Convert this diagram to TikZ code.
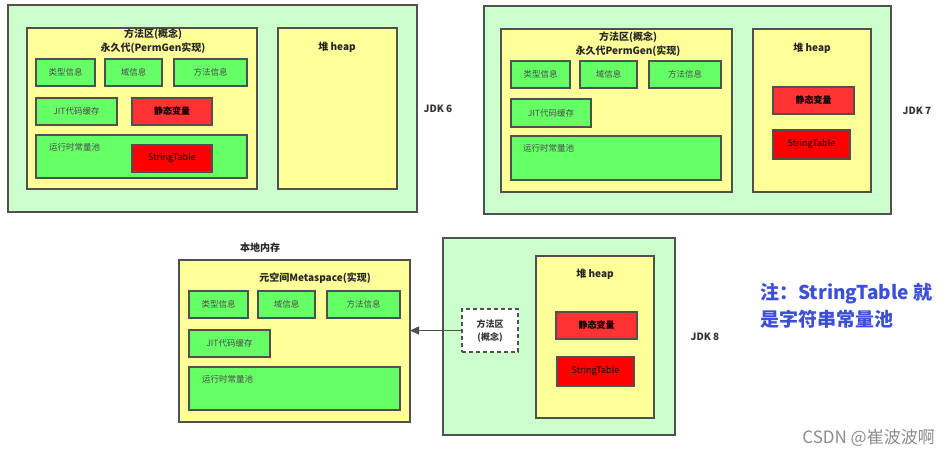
\documentclass[tikz,border=0pt]{standalone}
\usepackage{fontspec}
\setmainfont{Noto Sans CJK SC}
\usetikzlibrary{arrows.meta}
\definecolor{outg}{HTML}{CCFFCC}
\definecolor{yel}{HTML}{FFFF99}
\definecolor{gb}{HTML}{66FF66}
\definecolor{rb}{HTML}{FF3333}
\definecolor{rb2}{HTML}{FF0000}
\definecolor{bd}{HTML}{505050}
\definecolor{note}{HTML}{3D4FD6}
\definecolor{txtg}{HTML}{4A4A4A}
\newcommand\bx[7]{\node[#2, anchor=north west, minimum width={#5-#3}, minimum height={#6-#4}] (#1) at (#3,#4) {#7};}
\tikzset{
  base/.style={inner sep=0pt, outer sep=0pt, draw=bd},
  outer/.style={base, fill=outg, line width=1.3pt},
  yel/.style={base, fill=yel, line width=1.1pt},
  gbox/.style={base, fill=gb, line width=1.1pt, text=txtg, font=\fontsize{8.5}{10}\selectfont},
  rbox/.style={base, fill=rb, line width=1.1pt, text=black, font=\fontsize{9}{10}\selectfont\bfseries},
  sbox/.style={base, fill=rb2, line width=1.1pt, text=black, font=\fontsize{9}{10}\selectfont},
  title/.style={font=\fontsize{10}{14}\selectfont\bfseries, text=black!85, align=center, inner sep=0pt},
  jdk/.style={font=\fontsize{10}{12}\selectfont\bfseries, text=black!80, inner sep=0pt},
  lbl/.style={font=\fontsize{8.5}{10}\selectfont, text=txtg, inner sep=0pt, anchor=west},
}
\begin{document}
\begin{tikzpicture}[x=1pt,y=-1pt]
\useasboundingbox[fill=white] (0,0) rectangle (950,456);
% ---------------- JDK 6
\bx{o6}{outer}{8}{5}{417}{212}{}
\bx{ma6}{yel}{27}{28}{257}{189}{}
\node[title] (t6) at (153,41) {方法区(概念)\\永久代(PermGen实现)};
\bx{h6}{yel}{278}{28}{397}{189}{}
\node[title] (ht6) at (337,47) {堆 heap};
\bx{a6}{gbox}{36}{59}{95}{86}{类型信息}
\bx{b6}{gbox}{105}{59}{162}{86}{域信息}
\bx{c6}{gbox}{174}{59}{247}{86}{方法信息}
\bx{d6}{gbox}{36}{98}{117}{125}{JIT代码缓存}
\bx{e6}{rbox}{132}{98}{212}{125}{静态变量}
\bx{f6}{gbox}{36}{135}{247}{178}{}
\node[lbl] (fl6) at (49,147) {运行时常量池};
\bx{s6}{sbox}{132}{145}{212}{172}{StringTable}
\node[jdk] (j6) at (438,109) {JDK 6};
% ---------------- JDK 7
\bx{o7}{outer}{484}{6}{891}{214}{}
\bx{ma7}{yel}{501}{29}{732}{192}{}
\node[title] (t7) at (628,44) {方法区(概念)\\永久代PermGen(实现)};
\bx{h7}{yel}{753}{29}{871}{192}{}
\node[title] (ht7) at (812,48) {堆 heap};
\bx{a7}{gbox}{511}{61}{570}{88}{类型信息}
\bx{b7}{gbox}{580}{61}{637}{88}{域信息}
\bx{c7}{gbox}{649}{61}{721}{88}{方法信息}
\bx{d7}{gbox}{511}{99}{591}{127}{JIT代码缓存}
\bx{f7}{gbox}{511}{136}{721}{180}{}
\node[lbl] (fl7) at (523,148) {运行时常量池};
\bx{e7}{rbox}{773}{87}{854}{114}{静态变量}
\bx{s7}{sbox}{773}{130}{850}{159}{StringTable}
\node[jdk] (j7) at (917,111) {JDK 7};
% ---------------- JDK 8
\node[title] (nm) at (260,248) {本地内存};
\bx{ms}{yel}{179}{260}{410}{422}{}
\node[title] (tm) at (315,278) {元空间Metaspace(实现)};
\bx{a8}{gbox}{189}{291}{248}{318}{类型信息}
\bx{b8}{gbox}{258}{291}{315}{318}{域信息}
\bx{c8}{gbox}{327}{291}{400}{318}{方法信息}
\bx{d8}{gbox}{189}{330}{270}{357}{JIT代码缓存}
\bx{f8}{gbox}{189}{367}{400}{410}{}
\node[lbl] (fl8) at (202,379) {运行时常量池};
\bx{o8}{outer}{443}{238}{675}{435}{}
\bx{ma8}{base, fill=white, line width=1.4pt, dash pattern=on 4pt off 3pt, font=\fontsize{9}{13}\selectfont\bfseries, text=black!80, align=center}{462}{309}{518}{352}{方法区\\(概念)}
\bx{h8}{yel}{536}{256}{654}{418}{}
\node[title] (ht8) at (595,274) {堆 heap};
\bx{e8}{rbox}{556}{312}{637}{339}{静态变量}
\bx{s8}{sbox}{557}{357}{634}{386}{StringTable}
\node[jdk] (j8) at (705,337) {JDK 8};
\draw[bd, line width=1.5pt, -{Triangle[length=9pt,width=8pt]}] (ma8.west) -- (ma8.west -| ms.east);
% note
\node[font=\fontsize{19}{27}\selectfont\bfseries, text=note, align=left, anchor=west, inner sep=0pt] (nt) at (760,306) {注：StringTable 就\\是字符串常量池};
\node[font=\fontsize{17}{20}\selectfont, text=black!45, anchor=east, inner sep=0pt] (wm) at (935,438) {CSDN @崔波波啊};
\end{tikzpicture}
\end{document}
